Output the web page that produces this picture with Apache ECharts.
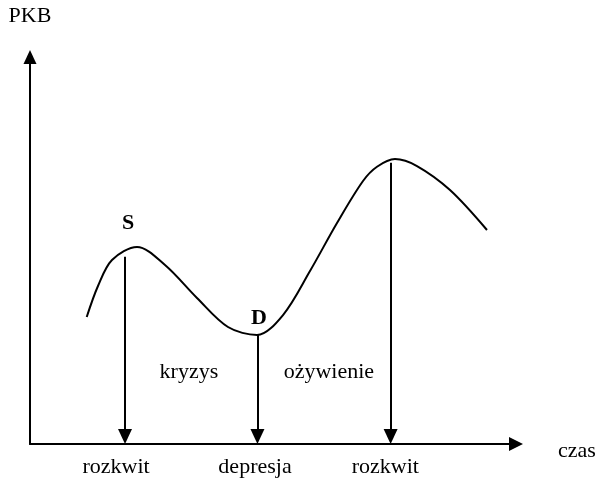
<!DOCTYPE html>
<html>
<head>
<meta charset="utf-8">
<script src="https://cdn.jsdelivr.net/npm/echarts@6/dist/echarts.min.js"></script>
<style>html,body{margin:0;padding:0;background:#fff}#c{width:601px;height:480px}</style>
</head>
<body>
<div id="c"></div>
<script>
// Curve of PKB over time (data units: time 0-100, PKB 0-100)
var curveX = [11.67, 13.99, 16.87, 22.02, 27.78, 34.36, 40.74, 46.71, 52.06, 57.61, 63.17, 68.52, 71.40, 75.10, 79.63, 86.42, 94.03];
var curveY = [32.82, 40.83, 47.55, 50.90, 46.25, 37.73, 30.23, 28.17, 33.33, 44.70, 57.11, 67.96, 71.65, 73.64, 71.83, 65.63, 55.30];

// Vertical arrows (from curve down to time axis)
var arrowX = [19.55, 46.8, 74.2];
var arrowTopY = [48.4, 28.4, 72.7];
var arrowEndY = 1.94;

// Phase labels under the time axis
var phaseNames = ['rozkwit', 'depresja', 'rozkwit'];
var phaseX = [17.7, 46.3, 73.1];

// Annotations inside the plot
var annoText = ['S', 'D', 'kryzys', 'ożywienie'];
var annoX = [20.2, 47.1, 32.7, 61.5];
var annoY = [57.1, 32.6, 18.6, 18.6];
var annoBold = [true, true, false, false];

var FONT = "'Liberation Serif', 'Times New Roman', serif";

var chart = echarts.init(document.getElementById('c'));
var curveData = curveX.map(function (x, i) { return [x, curveY[i]]; });
var arrowLines = arrowX.map(function (x, i) {
  return [{ coord: [x, arrowTopY[i]] }, { coord: [x, arrowEndY] }];
});
var annoData = annoText.map(function (t, i) {
  return {
    name: t, value: [annoX[i], annoY[i]],
    label: { fontWeight: annoBold[i] ? 'bold' : 'normal' }
  };
});

chart.setOption({
  animation: false,
  backgroundColor: '#fff',
  grid: { left: 30, right: 85, top: 57, bottom: 36 },
  xAxis: {
    type: 'value', min: 0, max: 100,
    name: 'czas', nameLocation: 'end', nameGap: 42,
    nameTextStyle: { fontFamily: FONT, fontSize: 22, color: '#000', verticalAlign: 'top', lineHeight: 14 },
    axisLine: { show: true, symbol: ['none', 'triangle'], symbolSize: [14, 14], lineStyle: { color: '#000', width: 2 } },
    axisTick: { show: false },
    splitLine: { show: false },
    axisLabel: {
      show: true, customValues: phaseX, margin: 12,
      fontFamily: FONT, fontSize: 22, color: '#000',
      formatter: function (v) {
        var i = phaseX.indexOf(v);
        return i >= 0 ? phaseNames[i] : '';
      }
    }
  },
  yAxis: {
    type: 'value', min: 0, max: 100,
    name: 'PKB', nameLocation: 'end', nameGap: 30,
    nameTextStyle: { fontFamily: FONT, fontSize: 22, color: '#000', align: 'center' },
    axisLine: { show: true, symbol: ['none', 'triangle'], symbolSize: [13, 14], lineStyle: { color: '#000', width: 2 } },
    axisTick: { show: false },
    splitLine: { show: false },
    axisLabel: { show: false }
  },
  series: [
    {
      type: 'line', data: curveData, smooth: 0.33, symbol: 'none',
      lineStyle: { color: '#000', width: 2 },
      silent: true,
      markLine: {
        silent: true, symbol: ['none', 'triangle'], symbolSize: [14, 15],
        lineStyle: { color: '#000', width: 2, type: 'solid' },
        itemStyle: { color: '#000' },
        label: { show: false },
        data: arrowLines
      }
    },
    {
      type: 'scatter', data: annoData, symbolSize: 0, silent: true,
      itemStyle: { color: '#000', opacity: 1 },
      label: {
        show: true, position: 'inside', formatter: '{b}',
        fontFamily: FONT, fontSize: 22, color: '#000',
        textBorderWidth: 0, textBorderColor: 'transparent'
      }
    }
  ]
});
</script>
</body>
</html>
